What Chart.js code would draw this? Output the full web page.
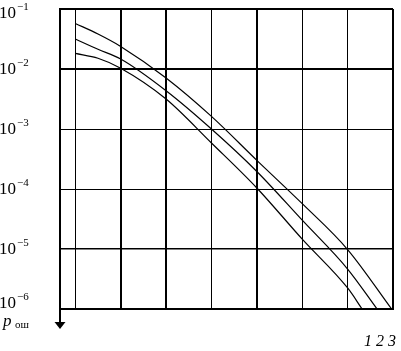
<!DOCTYPE html>
<html>
<head>
<meta charset="utf-8">
<script src="https://cdn.jsdelivr.net/npm/chart.js@4"></script>
<style>
  body { margin: 0; background: #fff; }
</style>
</head>
<body>
<canvas id="myChart" width="401" height="351"></canvas>
<script>
// x grid (arbitrary units, one per grid cell) and y decades
const xGrid = [0, 1, 2, 3, 4, 5, 6, 7];
const yTicks = [1e-6, 1e-5, 1e-4, 1e-3, 1e-2, 1e-1];
const yTickExp = ['−6', '−5', '−4', '−3', '−2', '−1'];
const curveNames = ['1', '2', '3'];

// curve 1 (lowest)
const curve1X = [0, 0.5, 1, 2, 3, 4, 5, 6, 6.32];
const curve1Y = [1.82e-2, 1.51e-2, 1.03e-2, 3.16e-3, 5.85e-4, 1.04e-4, 1.46e-5, 2.24e-6, 1e-6];
// curve 2
const curve2X = [0, 0.5, 1, 2, 3, 4, 5, 6, 6.65];
const curve2Y = [3.16e-2, 2.13e-2, 1.47e-2, 4.35e-3, 1.0e-3, 1.96e-4, 3.02e-5, 4.64e-6, 1e-6];
// curve 3 (highest)
const curve3X = [0, 0.5, 1, 2, 3, 4, 5, 6, 6.97];
const curve3Y = [5.75e-2, 3.83e-2, 2.38e-2, 7.08e-3, 1.62e-3, 3.0e-4, 5.69e-5, 9.8e-6, 1e-6];

function toPoints(xs, ys) {
    return xs.map(function (x, i) { return { x: x, y: ys[i] }; });
}

function lineSet(label, xs, ys) {
    return {
        label: label,
        data: toPoints(xs, ys),
        borderColor: '#000',
        borderWidth: 1.2,
        pointRadius: 0,
        fill: false,
        cubicInterpolationMode: 'monotone'
    };
}

const labelsPlugin = {
    id: 'labels',
    afterDraw: function (chart) {
        const ctx = chart.ctx;
        const ys = chart.scales.y;
        const area = chart.chartArea;
        ctx.save();
        ctx.fillStyle = '#000';
        ctx.textBaseline = 'middle';
        ctx.textAlign = 'left';

        // y tick labels 10^-n
        yTicks.forEach(function (v, i) {
            let py = ys.getPixelForValue(v);
            py = Math.min(Math.max(py, 13), 303);
            ctx.font = '17px "Liberation Serif"';
            ctx.fillText('10', -1, py + 1);
            ctx.font = '11px "Liberation Serif"';
            ctx.fillText(yTickExp[i], 17, py - 6);
        });

        // arrow under the y axis
        const ax = area.left;
        const b = area.bottom;
        ctx.strokeStyle = '#000';
        ctx.lineWidth = 2;
        ctx.beginPath();
        ctx.moveTo(ax, b);
        ctx.lineTo(ax, b + 15);
        ctx.stroke();
        ctx.beginPath();
        ctx.moveTo(ax - 5.5, b + 13);
        ctx.lineTo(ax + 5.5, b + 13);
        ctx.lineTo(ax, b + 20);
        ctx.closePath();
        ctx.fill();

        // axis name p_ош
        ctx.textBaseline = 'alphabetic';
        ctx.font = 'italic 17px "Liberation Serif"';
        ctx.fillText('p', 3, 326);
        ctx.font = '11px "Liberation Serif"';
        ctx.fillText('ош', 15, 328);

        // curve numbers
        ctx.font = 'italic 16px "Liberation Serif"';
        ctx.fillText(curveNames.join(' '), 364, 346);
        ctx.restore();
    }
};

const ctx = document.getElementById('myChart').getContext('2d');

const myChart = new Chart(ctx, {
    type: 'line',
    data: {
        datasets: [
            lineSet('1', curve1X, curve1Y),
            lineSet('2', curve2X, curve2Y),
            lineSet('3', curve3X, curve3Y)
        ]
    },
    options: {
        responsive: false,
        animation: false,
        layout: {
            padding: { left: 60, right: 8, top: 9, bottom: 42 }
        },
        scales: {
            x: {
                type: 'linear',
                min: -0.337,
                max: 7,
                afterBuildTicks: function (scale) {
                    scale.ticks = xGrid.map(function (v) { return { value: v }; });
                },
                ticks: { display: false },
                border: { display: true, color: '#000', width: 2 },
                grid: {
                    color: '#000',
                    drawTicks: false,
                    lineWidth: function (c) {
                        const v = c.tick ? c.tick.value : 0;
                        return (v === 1 || v === 2 || v === 4 || v === 7) ? 2 : 1;
                    }
                }
            },
            y: {
                type: 'logarithmic',
                min: 1e-6,
                max: 1e-1,
                afterBuildTicks: function (scale) {
                    scale.ticks = yTicks.map(function (v) { return { value: v }; });
                },
                ticks: { display: false },
                border: { display: true, color: '#000', width: 2 },
                grid: {
                    color: '#000',
                    drawTicks: false,
                    lineWidth: function (c) {
                        const v = c.tick ? c.tick.value : 0;
                        if (v === 1e-1 || v === 1e-2 || v === 1e-6) return 2;
                        if (v === 1e-5) return 1.5;
                        return 1;
                    }
                }
            }
        },
        plugins: {
            legend: { display: false },
            tooltip: { enabled: false }
        }
    },
    plugins: [labelsPlugin]
});
</script>
</body>
</html>
